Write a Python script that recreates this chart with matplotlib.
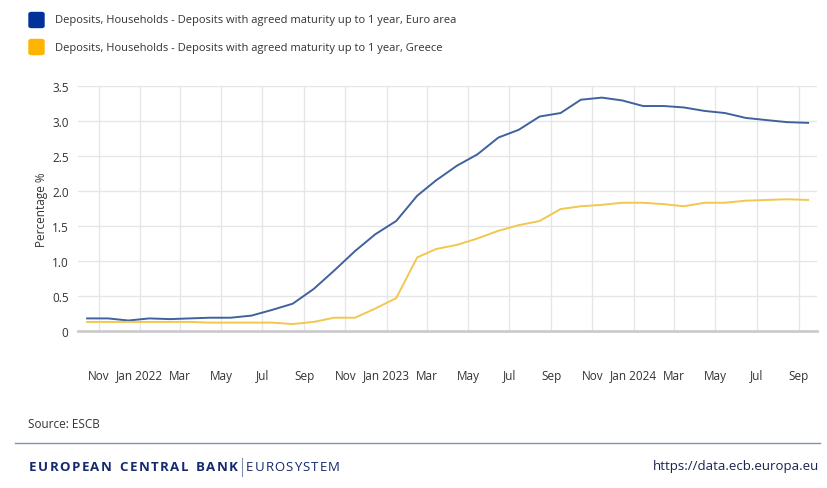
import matplotlib
matplotlib.use("Agg")
import matplotlib.pyplot as plt
import matplotlib.dates as mdates
from matplotlib.patches import FancyBboxPatch
import pandas as pd

plt.rcParams["font.family"] = ["Open Sans", "DejaVu Sans"]

# monthly data, Oct 2021 - Sep 2024
months = pd.date_range("2021-10-01", "2024-09-01", freq="MS") + pd.Timedelta(days=14)

euro_area = [0.18, 0.18, 0.15, 0.18, 0.17, 0.18, 0.19, 0.19, 0.22, 0.30,
             0.39, 0.60, 0.86, 1.14, 1.38, 1.57, 1.93, 2.15, 2.36, 2.52,
             2.76, 2.87, 3.06, 3.11, 3.30, 3.33, 3.29, 3.21, 3.21, 3.19,
             3.14, 3.11, 3.04, 3.01, 2.98, 2.97]
greece = [0.13, 0.13, 0.13, 0.13, 0.13, 0.13, 0.12, 0.12, 0.12, 0.12,
          0.10, 0.13, 0.19, 0.19, 0.32, 0.47, 1.05, 1.17, 1.23, 1.32,
          1.43, 1.51, 1.57, 1.74, 1.78, 1.80, 1.83, 1.83, 1.81, 1.78,
          1.83, 1.83, 1.86, 1.87, 1.88, 1.87]

labels = ["Deposits, Households - Deposits with agreed maturity up to 1 year, Euro area",
          "Deposits, Households - Deposits with agreed maturity up to 1 year, Greece"]
square_colors = ["#003299", "#ffb400"]
line_colors = ["#41619e", "#f3c74e"]

W, H = 828, 489
fig = plt.figure(figsize=(W / 100, H / 100), dpi=100)
ax = fig.add_axes([0.0946, 0.321, 0.892, 0.5017])

ax.plot(months, euro_area, color=line_colors[0], lw=1.4)
ax.plot(months, greece, color=line_colors[1], lw=1.4)

ax.set_xlim(pd.Timestamp("2021-10-02"), pd.Timestamp("2024-09-28"))
ax.set_ylim(0, 3.5)
ax.set_yticks([0, 0.5, 1.0, 1.5, 2.0, 2.5, 3.0, 3.5])
ax.set_yticklabels(["0", "0.5", "1.0", "1.5", "2.0", "2.5", "3.0", "3.5"])

ax.xaxis.set_major_locator(mdates.MonthLocator(bymonth=[1, 3, 5, 7, 9, 11]))
ax.xaxis.set_major_formatter(plt.FuncFormatter(
    lambda v, p: mdates.num2date(v).strftime("%b %Y") if mdates.num2date(v).month == 1
    else mdates.num2date(v).strftime("%b")))

ax.grid(True, color="#e6e6e6", lw=1)
ax.set_axisbelow(True)
for s in ["top", "right", "left"]:
    ax.spines[s].set_visible(False)
ax.spines["bottom"].set_color("#cccccc")
ax.spines["bottom"].set_linewidth(2)
ax.tick_params(axis="x", length=0, pad=27, labelsize=8.5, labelcolor="#333333")
ax.tick_params(axis="y", length=0, pad=7, labelsize=8.5, labelcolor="#333333")
ax.set_ylabel("Percentage %", fontsize=8.5, color="#333333", labelpad=3)

# legend squares
for i, (lab, c) in enumerate(zip(labels, square_colors)):
    yc = 1 - (21 + 27 * i) / H
    fig.patches.append(FancyBboxPatch((29 / W, yc - 7.5 / H), 15 / W, 15 / H,
                                      boxstyle="round,pad=0,rounding_size=0.003",
                                      transform=fig.transFigure, color=c))
    fig.text(55 / W, yc, lab, fontsize=8.0, color="#333333", va="center")

fig.text(28 / W, 1 - 425 / H, "Source: ESCB", fontsize=8.5, color="#333333", va="center")
fig.add_artist(plt.Line2D([15 / W, 820 / W], [1 - 444 / H] * 2,
                          transform=fig.transFigure, color="#8090b0", lw=1))


# letter-spaced text between two pixel x positions
def spaced_text(s, x0, x1, yc, **kw):
    r = fig.canvas.get_renderer()
    parts = []
    for ch in s:
        if ch == " ":
            parts.append((ch, None, 5.0))
            continue
        t = fig.text(0, 0, ch, **kw)
        w = t.get_window_extent(r).width
        parts.append((ch, t, w))
    total = sum(p[2] for p in parts)
    gap = (x1 - x0 - total) / (len(parts) - 1)
    x = x0
    for ch, t, w in parts:
        if t is not None:
            t.set_position((x / W, 1 - yc / H))
            t.set_va("center")
        x += w + gap


brand = "#14286e"
spaced_text("EUROPEAN CENTRAL BANK", 29, 238, 468, fontsize=9.5, fontweight="bold", color=brand)
fig.add_artist(plt.Line2D([242 / W, 242 / W], [1 - 459 / H, 1 - 477 / H],
                          transform=fig.transFigure, color="#8090b0", lw=0.8))
spaced_text("EUROSYSTEM", 246, 340, 468, fontsize=9.5, color=brand)
fig.text(819 / W, 1 - 467 / H, "https://data.ecb.europa.eu", fontsize=9.5,
         color="#1a2350", va="center", ha="right")

fig.savefig("out.png", dpi=100)
